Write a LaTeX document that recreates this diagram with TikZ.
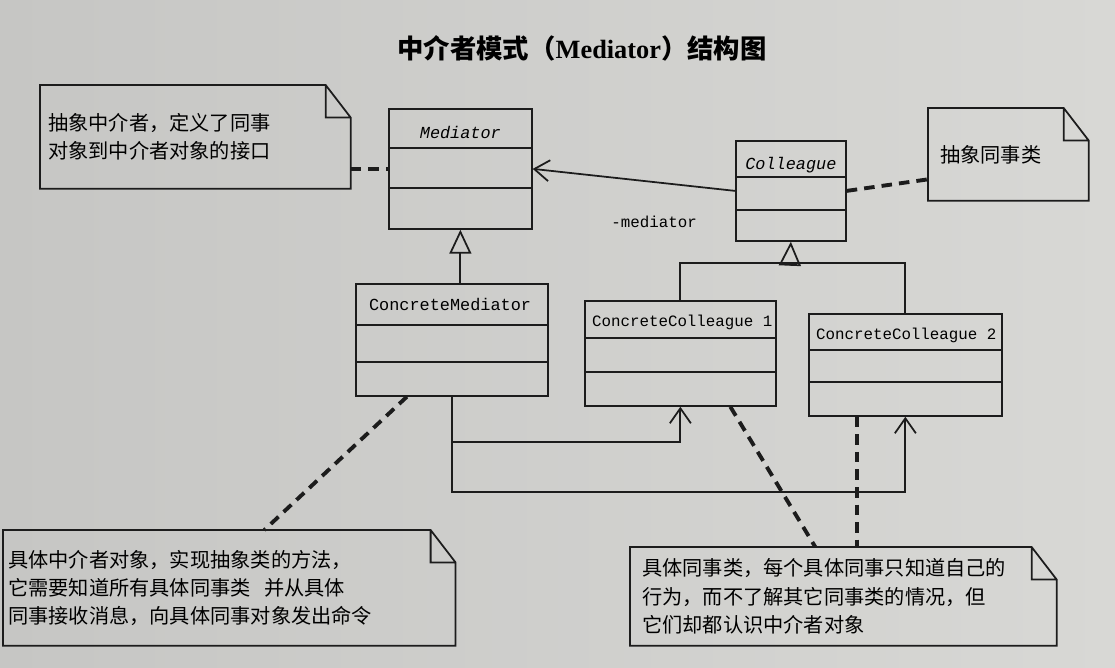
\documentclass[tikz,border=0pt]{standalone}
\usepackage{fontspec}
\setmainfont{Liberation Serif}
\setmonofont{Liberation Mono}
\newfontfamily\cjk{Noto Sans CJK SC}
\usetikzlibrary{positioning,arrows.meta}
\definecolor{paper}{RGB}{216,216,213}
\definecolor{paperdark}{RGB}{198,198,196}
\definecolor{ink}{RGB}{28,28,28}
\tikzset{
  classbox/.style={draw=ink,line width=1pt,anchor=north west,inner sep=0pt},
  classname/.style={font=\ttfamily\fontsize{9}{11}\selectfont,inner sep=1pt},
  rolename/.style={font=\ttfamily\fontsize{9}{11}\selectfont,inner sep=1pt},
  notebox/.style={anchor=north west,align=left,inner ysep=2pt,font=\cjk\fontsize{11.5}{16}\selectfont},
  notelink/.style={draw=ink,line width=2.2pt,dash pattern=on 6pt off 4pt},
  inherit/.style={draw=ink,line width=1pt,-{Triangle[open,length=0.48cm,width=0.44cm]}},
  assoc/.style={draw=ink,line width=1pt,-{Straight Barb[length=0.3cm,width=0.42cm]}}
}
\begin{document}
\begin{tikzpicture}[x=0.02cm,y=-0.02cm]
%Seite
	\shade[left color=paperdark,right color=paper] (0,0) rectangle (1115,667);
	\useasboundingbox (0,0) rectangle (1115,667);
%Titel
	\node[font=\cjk\bfseries\fontsize{15}{18}\selectfont] (title) at (582,48)
		{中介者模式（{\rmfamily\bfseries Mediator}）结构图};
%Klassen
	\node[classbox,minimum width=2.86cm,minimum height=2.4cm] (med) at (388,108) {};
	\node[classname,font=\ttfamily\itshape\fontsize{9.6}{11}\selectfont] (medname)
		[below=0.32cm of med.north] {Mediator};
	\foreach \y in {148,188}
		\draw[ink,line width=1pt] (med.west |- 0,\y) -- (med.east |- 0,\y);

	\node[classbox,minimum width=2.2cm,minimum height=2cm] (col) at (735,140) {};
	\node[classname,font=\ttfamily\itshape\fontsize{9.6}{11}\selectfont] (colname)
		[below=0.3cm of col.north] {Colleague};
	\foreach \y in {177,210}
		\draw[ink,line width=1pt] (col.west |- 0,\y) -- (col.east |- 0,\y);

	\node[classbox,minimum width=3.84cm,minimum height=2.24cm] (cmed) at (355,283) {};
	\node[classname,font=\ttfamily\fontsize{9.6}{11}\selectfont] (cmedname)
		[below right=0.26cm and 0.24cm of cmed.north west] {ConcreteMediator};
	\foreach \y in {325,362}
		\draw[ink,line width=1pt] (cmed.west |- 0,\y) -- (cmed.east |- 0,\y);

	\node[classbox,minimum width=3.82cm,minimum height=2.1cm] (cc1) at (584,300) {};
	\node[classname] (cc1name) [below right=0.25cm and 0.12cm of cc1.north west]
		{ConcreteColleague 1};
	\foreach \y in {338,372}
		\draw[ink,line width=1pt] (cc1.west |- 0,\y) -- (cc1.east |- 0,\y);

	\node[classbox,minimum width=3.86cm,minimum height=2.04cm] (cc2) at (808,313) {};
	\node[classname] (cc2name) [below right=0.25cm and 0.12cm of cc2.north west]
		{ConcreteColleague 2};
	\foreach \y in {350,382}
		\draw[ink,line width=1pt] (cc2.west |- 0,\y) -- (cc2.east |- 0,\y);
%Vererbung
	\draw[inherit] (med.south |- cmed.north) -- (med.south);
	\coordinate (cfork) at (790,263);
	\draw[ink,line width=1pt] (cc1.north) -- (cc1.north |- cfork)
		-- (cc2.north |- cfork) -- (cc2.north);
	\draw[inherit] (cfork) -- (col.south);
%Assoziationen
	\draw[assoc] (col.west) -- node[rolename,pos=0.4,below=0.62cm] (role) {-mediator} (med.east);
	\draw[assoc] (cmed.south) -- ++(0,45) -| (cc1.south);
	\draw[assoc] (cmed.south) -- ++(0,95) -| (cc2.south);
%Notizen
	\node[notebox,text width=5.88cm,inner xsep=0.16cm,minimum height=2.06cm] (note1) at (40,85)
		{抽象中介者，定义了同事\\对象到中介者对象的接口};
	\node[notebox,text width=2.72cm,inner xsep=0.24cm,minimum height=1.84cm] (note2) at (928,108)
		{抽象同事类};
	\node[notebox,text width=8.84cm,inner xsep=0.1cm,minimum height=2.3cm] (note3) at (3,530)
		{具体中介者对象，实现抽象类的方法，\\它需要知道所有具体同事类\ \ 并从具体\\同事接收消息，向具体同事对象发出命令};
	\node[notebox,text width=8.04cm,inner xsep=0.24cm,minimum height=1.96cm] (note4) at (630,547)
		{具体同事类，每个具体同事只知道自己的\\行为，而不了解其它同事类的情况，但\\它们却都认识中介者对象};
	\foreach \n in {note1,note2,note3,note4}
		\draw[ink,line width=1pt] (\n.south west) -- (\n.north west) -- ([xshift=-0.5cm]\n.north east)
			-- ([yshift=-0.65cm]\n.north east) -- (\n.south east) -- cycle
			([xshift=-0.5cm]\n.north east) |- ([yshift=-0.65cm]\n.north east);
%Verbindungen zu den Notizen
	\draw[notelink] (note1.east |- med.west) -- (med.west);
	\draw[notelink] (col.east) -- ([yshift=-0.5cm]note2.west);
	\draw[notelink] ([xshift=-0.9cm]cmed.south) -- ([xshift=0.7cm]note3.north);
	\draw[notelink] ([xshift=1cm]cc1.south) -- ([xshift=-0.56cm]note4.north);
	\draw[notelink] ([xshift=-0.96cm]cc2.south) -- ([xshift=-0.96cm]cc2.south |- note4.north);
\end{tikzpicture}
\end{document}
